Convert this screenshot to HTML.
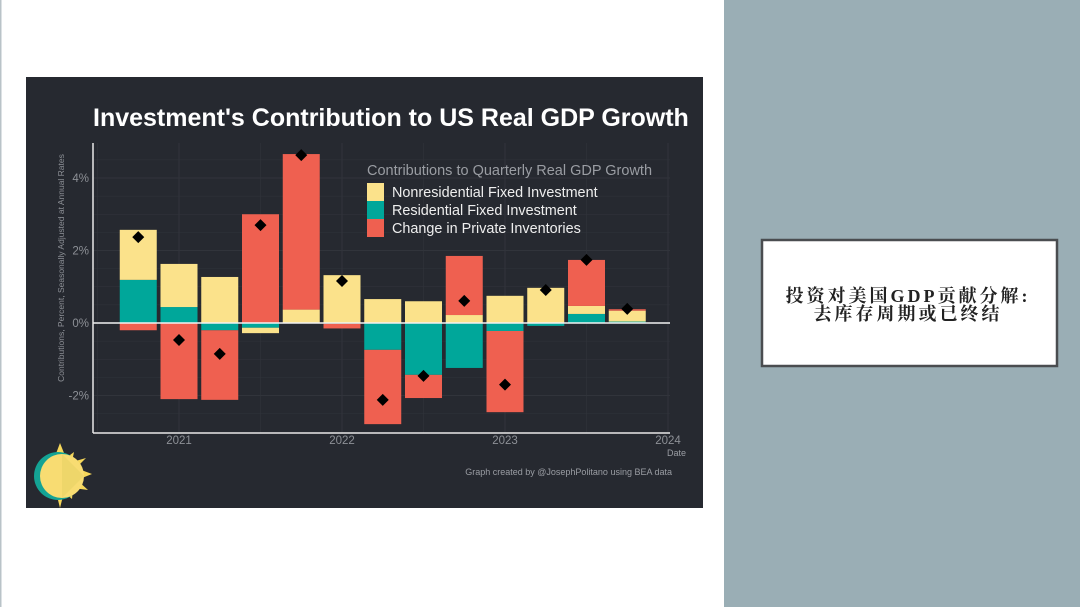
<!DOCTYPE html>
<html><head><meta charset="utf-8"><style>
html,body{margin:0;padding:0;width:1080px;height:607px;overflow:hidden;background:#fff}
svg{display:block}
</style></head><body>
<svg id="root" width="1080" height="607" viewBox="0 0 1080 607" xmlns="http://www.w3.org/2000/svg" font-family="Liberation Sans, sans-serif">
<rect x="0" y="0" width="724" height="607" fill="#ffffff"/>
<rect x="724" y="0" width="356" height="607" fill="#9aaeb5"/>
<rect x="0" y="0" width="1.5" height="607" fill="#b9c3c8"/>
<g>
<rect x="762" y="240" width="295" height="126" fill="#fff" stroke="#4a4d50" stroke-width="2.5"/>
<text x="908" y="302" text-anchor="middle" font-size="18" font-weight="bold" letter-spacing="3" fill="#222" font-family="Liberation Serif, Noto Serif CJK SC, serif">投资对美国GDP贡献分解:</text>
<text x="908" y="320" text-anchor="middle" font-size="18" font-weight="bold" letter-spacing="3" fill="#222" font-family="Liberation Serif, Noto Serif CJK SC, serif">去库存周期或已终结</text>
</g>
<rect x="26" y="77" width="677" height="431" fill="#262930"/>
<text x="93" y="126" font-size="25" font-weight="bold" fill="#ffffff">Investment's Contribution to US Real GDP Growth</text>
<g id="grid"></g>
<g id="bars"></g>
<g id="axes"></g>
<g id="legend">
<text x="367" y="175" font-size="14.5" fill="#9a9da3">Contributions to Quarterly Real GDP Growth</text>
<rect x="367" y="183" width="17" height="18" fill="#fbe28b"/>
<rect x="367" y="201" width="17" height="18" fill="#00a79a"/>
<rect x="367" y="219" width="17" height="18" fill="#ef6050"/>
<text x="392" y="197" font-size="14.4" fill="#eeeeee">Nonresidential Fixed Investment</text>
<text x="392" y="215" font-size="14.4" fill="#eeeeee">Residential Fixed Investment</text>
<text x="392" y="233" font-size="14.4" fill="#eeeeee">Change in Private Inventories</text>
</g>
<text transform="translate(64,268) rotate(-90)" text-anchor="middle" font-size="8.5" fill="#8d9096">Contributions, Percent, Seasonally Adjusted at Annual Rates</text>
<text x="686" y="456" text-anchor="end" font-size="9" fill="#9a9da3">Date</text>
<text x="672" y="475" text-anchor="end" font-size="9" fill="#9a9da3">Graph created by @JosephPolitano using BEA data</text>
<g>
<polygon points="60,443 66,458 74,452 72,462 86,458 76,468 92,474 77,480 88,490 73,488 72,499 64,492 60,508 56,492 48,475" fill="#f6d75a"/>
<circle cx="58" cy="476" r="24" fill="#14a394"/>
<circle cx="62" cy="476" r="22" fill="#f8dc72"/>
<polygon points="62,454 84,476 62,498" fill="#eed66a"/>
</g>
</svg>
<script>
const quarters=[2020.75,2021.0,2021.25,2021.5,2021.75,2022.0,2022.25,2022.5,2022.75,2023.0,2023.25,2023.5,2023.75];
const nonres=[1.38,1.19,1.27,-0.15,0.37,1.32,0.66,0.60,0.22,0.75,0.97,0.22,0.30];
const resid=[1.19,0.44,-0.20,-0.13,0.00,-0.02,-0.74,-1.43,-1.24,-0.22,-0.08,0.25,0.04];
const invent=[-0.20,-2.10,-1.92,3.00,4.29,-0.13,-2.05,-0.64,1.63,-2.24,0.00,1.27,0.04];
const totals=[2.37,-0.47,-0.85,2.70,4.63,1.16,-2.12,-1.46,0.61,-1.70,0.91,1.74,0.39];
const yTicks=[-2,0,2,4];
const yTickLabels=["-2%","0%","2%","4%"];
const xTicks=[2021,2022,2023,2024];
const xTickLabels=["2021","2022","2023","2024"];
var NS="http://www.w3.org/2000/svg";
var X0=93,X1=670,Y0=143,Y1=433;
function xs(v){return 179+(v-2021)*163;}
function ys(v){return 323-v*36.25;}
function mk(tag,attrs,parent){var e=document.createElementNS(NS,tag);for(var k in attrs)e.setAttribute(k,attrs[k]);parent.appendChild(e);return e;}
var grid=document.getElementById('grid'),bars=document.getElementById('bars'),axes=document.getElementById('axes');
for(var v=-2.5;v<=4.5;v+=0.5){var y=ys(v);if(y<Y0||y>Y1)continue;
 var l=mk('line',{x1:X0,x2:X1,y1:y,y2:y,stroke:'#31343b','stroke-width':(v%2===0)?1:0.6},grid);
 
 }
for(var w=2020.5;w<=2024;w+=0.5){var x=xs(w);if(x<X0||x>X1)continue;
 var l2=mk('line',{x1:x,x2:x,y1:Y0,y2:Y1,stroke:'#31343b','stroke-width':(w%1===0)?1:0.6},grid);
 
 }
var colors={res:'#00a79a',nonres:'#fbe28b',inv:'#ef6050'};
var bw=37;
quarters.forEach(function(q,i){
 var pos=0,neg=0,cx=xs(q);
 [['res',resid[i]],['nonres',nonres[i]],['inv',invent[i]]].forEach(function(p){
  var k=p[0],val=p[1];if(val===0)return;var a,b;
  if(val>0){a=pos;b=pos+val;pos=b;}else{a=neg;b=neg+val;neg=b;}
  var yt=ys(Math.max(a,b)),yb=ys(Math.min(a,b));
  var r=mk('rect',{x:cx-bw/2,y:yt,width:bw,height:Math.max(0.5,yb-yt),fill:colors[k]},bars);
  
  
 });
});
quarters.forEach(function(q,i){var cx=xs(q),cy=ys(totals[i]);
 var d=mk('polygon',{points:cx+','+(cy-6)+' '+(cx+6)+','+cy+' '+cx+','+(cy+6)+' '+(cx-6)+','+cy,fill:'#000'},bars);
 
 });
var z=mk('line',{x1:X0,x2:X1,y1:ys(0),y2:ys(0),stroke:'#f2f2f2','stroke-width':1.5},axes);


var ax=mk('line',{x1:X0,x2:X0,y1:Y0,y2:Y1,stroke:'#e8e8e8','stroke-width':1.5},axes);


var bx=mk('line',{x1:X0,x2:X1,y1:Y1,y2:Y1,stroke:'#e8e8e8','stroke-width':1.5},axes);


yTicks.forEach(function(val,i){var t=mk('text',{x:89,y:ys(val)+4,'text-anchor':'end','font-size':11.5,fill:'#8d9096'},axes);t.textContent=yTickLabels[i];
 
 });
xTicks.forEach(function(val,i){var t=mk('text',{x:xs(val),y:444,'text-anchor':'middle','font-size':11.5,fill:'#8d9096'},axes);t.textContent=xTickLabels[i];
 
 });
</script>
</body></html>
